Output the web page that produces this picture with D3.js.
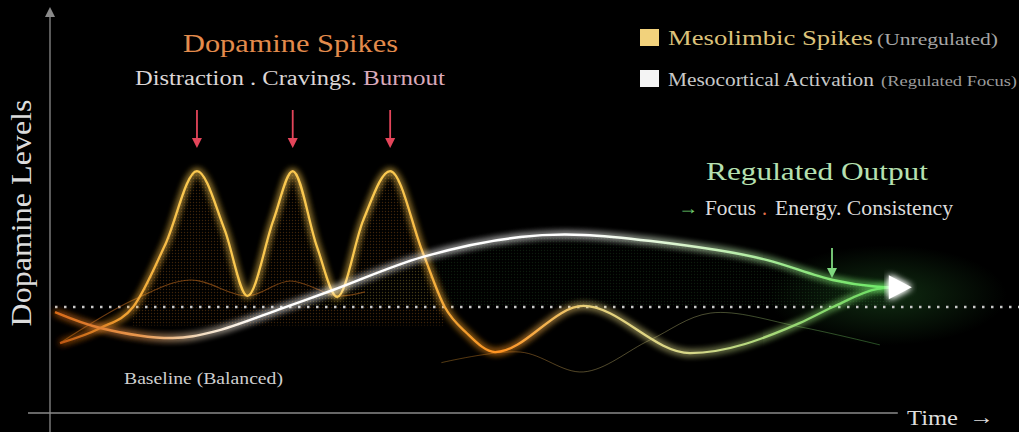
<!DOCTYPE html>
<html>
<head>
<meta charset="utf-8">
<script src="https://cdn.jsdelivr.net/npm/d3@7"></script>
<style>
  body { margin:0; background:#000; overflow:hidden; }
  svg { display:block; font-family:'Liberation Serif','DejaVu Serif',serif; }
</style>
</head>
<body>
<div id="viz-container"></div>
<script>
// values: [time, dopamine level]
let mesolimbic = [[0.06,2.64],[0.54,3.21],[0.93,4.00],[1.31,6.34],[1.69,9.13],[2.02,6.91],[2.29,4.42],
  [2.60,7.28],[2.83,9.13],[3.12,6.26],[3.36,4.38],[3.67,7.28],[3.99,9.13],[4.38,6.04],[4.64,4.00],
  [4.90,3.02],[5.24,2.30],[6.29,4.04],[7.56,2.26],[8.87,3.40],[9.26,4.00],[9.79,4.68],[9.95,4.74]];
let mesocortical = [[0.00,3.81],[0.54,3.21],[1.40,2.83],[1.88,3.06],[2.71,3.96],[3.31,4.64],[4.38,5.89],
  [5.54,6.64],[6.29,6.72],[7.88,6.15],[8.48,5.77],[9.26,5.02],[9.79,4.76],[9.95,4.75]];
let echoLeft = [[0.06,2.64],[0.93,4.26],[1.61,5.02],[2.29,4.42],[2.80,4.98],[3.36,4.42],[3.69,4.57]];
let echoRight = [[4.60,1.90],[5.54,2.30],[6.29,1.55],[7.08,2.75],[7.80,3.77],[8.87,3.25],[9.82,2.57]];
let baselineLevel = 4;
let spikeTimes = [1.69, 2.83, 3.99];
let regulatedTime = 9.25;
let arrowTip = [10.2, 4.75];
let legendLabels = ['Mesolimbic Spikes', 'Mesocortical Activation'];
let legendNotes = ['(Unregulated)', '(Regulated Focus)'];
let legendColors = ['#f2d27c', '#f4f4f4'];

let viz = d3.select('#viz-container')
  .append('svg')
    .attr('id','viz')
    .attr('width',1019)
    .attr('height',432)
;

let x = d3.scaleLinear().domain([0,10]).range([55,895]);
let y = d3.scaleLinear().domain([0,10]).range([413,148]);

let defs = viz.append('defs');

let glow = defs.append('filter').attr('id','glow')
  .attr('x','-20%').attr('y','-50%').attr('width','140%').attr('height','200%');
glow.append('feGaussianBlur').attr('in','SourceGraphic').attr('stdDeviation',3.5).attr('result','b');
let merge = glow.append('feMerge');
merge.append('feMergeNode').attr('in','b');
merge.append('feMergeNode').attr('in','b');
merge.append('feMergeNode').attr('in','SourceGraphic');

function gradient(id, stops){
  let g = defs.append('linearGradient').attr('id',id)
    .attr('gradientUnits','userSpaceOnUse')
    .attr('x1',x(0)).attr('x2',x(arrowTip[0])).attr('y1',0).attr('y2',0);
  stops.forEach(function(s){
    g.append('stop').attr('offset',s[0]).attr('stop-color',s[1]);
  });
}
gradient('limbicGrad', [[0,'#b85010'],[0.08,'#f0a030'],[0.15,'#fac850'],[0.4,'#fac850'],[0.47,'#f2a030'],
  [0.52,'#ff9222'],[0.62,'#e8d07a'],[0.75,'#d6d88a'],[0.88,'#8fd870'],[1,'#5fe060']]);
gradient('corticalGrad', [[0,'#d86a18'],[0.1,'#e89850'],[0.17,'#f2dcc0'],[0.24,'#ffffff'],[0.62,'#ffffff'],
  [0.75,'#d2f2c4'],[0.9,'#84e474'],[1,'#66ee66']]);

function dotPattern(id, color){
  defs.append('pattern').attr('id',id)
    .attr('width',3).attr('height',3).attr('patternUnits','userSpaceOnUse')
    .append('circle').attr('cx',1.5).attr('cy',1.5).attr('r',0.7).attr('fill',color);
}
dotPattern('orangeDots','#d07820');
dotPattern('greenDots','#5cc060');

let haze = defs.append('radialGradient').attr('id','haze');
haze.append('stop').attr('offset',0).attr('stop-color','#3aa040').attr('stop-opacity',0.5);
haze.append('stop').attr('offset',1).attr('stop-color','#3aa040').attr('stop-opacity',0);

let limbicLine = d3.line().x(d => x(d[0])).y(d => y(d[1])).curve(d3.curveMonotoneX);
let corticalLine = d3.line().x(d => x(d[0])).y(d => y(d[1])).curve(d3.curveCatmullRom.alpha(0.5));

// axes
viz.append('line')
  .attr('x1',50).attr('y1',14).attr('x2',50).attr('y2',432)
  .attr('stroke','#8a8a8a').attr('stroke-width',1.3);
viz.append('path')
  .attr('d','M50,7 L45,17 L55,17 Z')
  .attr('fill','#8a8a8a');
viz.append('line')
  .attr('x1',28).attr('y1',y(0)).attr('x2',x(arrowTip[0]) - 14).attr('y2',y(0))
  .attr('stroke','#8a8a8a').attr('stroke-width',1.3);

// stipple areas
viz.append('path')
  .datum(mesolimbic.filter(d => d[0] > 0.8 && d[0] < 4.7))
  .attr('d', d3.area().x(d => x(d[0])).y0(y(3.3)).y1(d => y(d[1])).curve(d3.curveMonotoneX))
  .attr('fill','url(#orangeDots)')
  .attr('opacity',0.3);
viz.append('path')
  .datum(mesocortical.filter(d => d[0] > 2.7))
  .attr('d', d3.area().x(d => x(d[0])).y0(y(baselineLevel)).y1(d => y(d[1])).curve(d3.curveCatmullRom.alpha(0.5)))
  .attr('fill','url(#greenDots)')
  .attr('opacity',0.14);
viz.append('ellipse')
  .attr('cx',x(arrowTip[0]) - 25).attr('cy',y(arrowTip[1]) + 8)
  .attr('rx',120).attr('ry',50)
  .attr('fill','url(#haze)')
  .attr('opacity',0.55);

// baseline
viz.append('line')
  .attr('x1',x(0)).attr('y1',y(baselineLevel)).attr('x2',1019).attr('y2',y(baselineLevel))
  .attr('stroke','#c8c8c8').attr('stroke-width',2.4)
  .attr('stroke-dasharray','2.5 6.5');

// faint echoes
viz.append('path').datum(echoLeft)
  .attr('d',corticalLine)
  .attr('fill','none').attr('stroke','#b8661c').attr('stroke-width',1.1).attr('opacity',0.6);
viz.append('path').datum(echoRight)
  .attr('d',corticalLine)
  .attr('fill','none').attr('stroke','url(#limbicGrad)').attr('stroke-width',1).attr('opacity',0.35);

// main curves
viz.append('path').datum(mesolimbic)
  .attr('d',limbicLine)
  .attr('fill','none')
  .attr('stroke','url(#limbicGrad)')
  .attr('stroke-width',2.3)
  .attr('filter','url(#glow)');
viz.append('path').datum(mesocortical)
  .attr('d',corticalLine)
  .attr('fill','none')
  .attr('stroke','url(#corticalGrad)')
  .attr('stroke-width',2.5)
  .attr('filter','url(#glow)');

// arrowhead at the end of the regulated line
let tx = x(arrowTip[0]), ty = y(arrowTip[1]);
viz.append('path')
  .attr('d','M' + (tx - 23) + ',' + (ty - 12) + ' L' + tx + ',' + ty + ' L' + (tx - 23) + ',' + (ty + 12) + ' Z')
  .attr('fill','#ffffff')
  .attr('filter','url(#glow)');

// red arrows at the spikes
viz.selectAll('.spikeArrow').data(spikeTimes).enter()
  .append('line')
    .attr('class','spikeArrow')
    .attr('x1',d => x(d)).attr('x2',d => x(d))
    .attr('y1',110).attr('y2',141)
    .attr('stroke','#e3455a').attr('stroke-width',1.8);
viz.selectAll('.spikeHead').data(spikeTimes).enter()
  .append('path')
    .attr('class','spikeHead')
    .attr('d',d => 'M' + (x(d) - 5) + ',138 L' + (x(d) + 5) + ',138 L' + x(d) + ',148 Z')
    .attr('fill','#e3455a');

// green arrow
viz.append('line')
  .attr('x1',x(regulatedTime)).attr('x2',x(regulatedTime))
  .attr('y1',248).attr('y2',271)
  .attr('stroke','#7fd87f').attr('stroke-width',1.8);
viz.append('path')
  .attr('d','M' + (x(regulatedTime) - 5) + ',268 L' + (x(regulatedTime) + 5) + ',268 L' + x(regulatedTime) + ',278 Z')
  .attr('fill','#7fd87f');

// texts
function label(txt, lx, ly, size, color, len){
  let t = viz.append('text')
    .attr('x',lx).attr('y',ly)
    .attr('font-size',size)
    .attr('fill',color)
    .text(txt);
  if(len){ t.attr('textLength',len).attr('lengthAdjust','spacingAndGlyphs'); }
  return t;
}

label('Dopamine Spikes', 183, 52, 25, '#e38b4c', 215);
label('Distraction . Cravings.', 135, 85, 20, '#dcd6d6', 222);
label('Burnout', 363, 85, 20, '#d9a9ba', 82);

label('Regulated Output', 706, 180, 25, '#b6e0b0', 222);
label('→', 678, 214, 18, '#6fd06f', 20);
label('Focus', 705, 215, 20, '#dcdcdc', 51);
label('.', 762, 215, 20, '#e0704a');
label('Energy. Consistency', 775, 215, 20, '#dcdcdc', 178);

label('Baseline (Balanced)', 124, 384, 16, '#cfcfcf', 159);
label('Time', 907, 425, 21, '#dedede', 51);
label('→', 969, 424, 20, '#dedede', 25);

viz.append('text')
  .attr('transform','translate(31,213) rotate(-90)')
  .attr('text-anchor','middle')
  .attr('font-size',29)
  .attr('fill','#dcdcdc')
  .attr('textLength',227)
  .attr('lengthAdjust','spacingAndGlyphs')
  .text('Dopamine Levels');

// legend
let legendLen = [205, 206], noteX = [877, 881], noteLen = [121, 136], noteSize = [17, 15];
let legendSize = [22, 19], legendFill = ['#dcc27a', '#c8c8c8'], noteFill = ['#a6a6a6', '#9c9c9c'];
legendLabels.forEach(function(l, i){
  let ly = 29 + i * 41;
  viz.append('rect')
    .attr('x',640).attr('y',ly)
    .attr('width',19).attr('height',17)
    .attr('fill',legendColors[i]);
  label(l, 668, ly + 16, legendSize[i], legendFill[i], legendLen[i]);
  label(legendNotes[i], noteX[i], ly + 16, noteSize[i], noteFill[i], noteLen[i]);
});
</script>
</body>
</html>
